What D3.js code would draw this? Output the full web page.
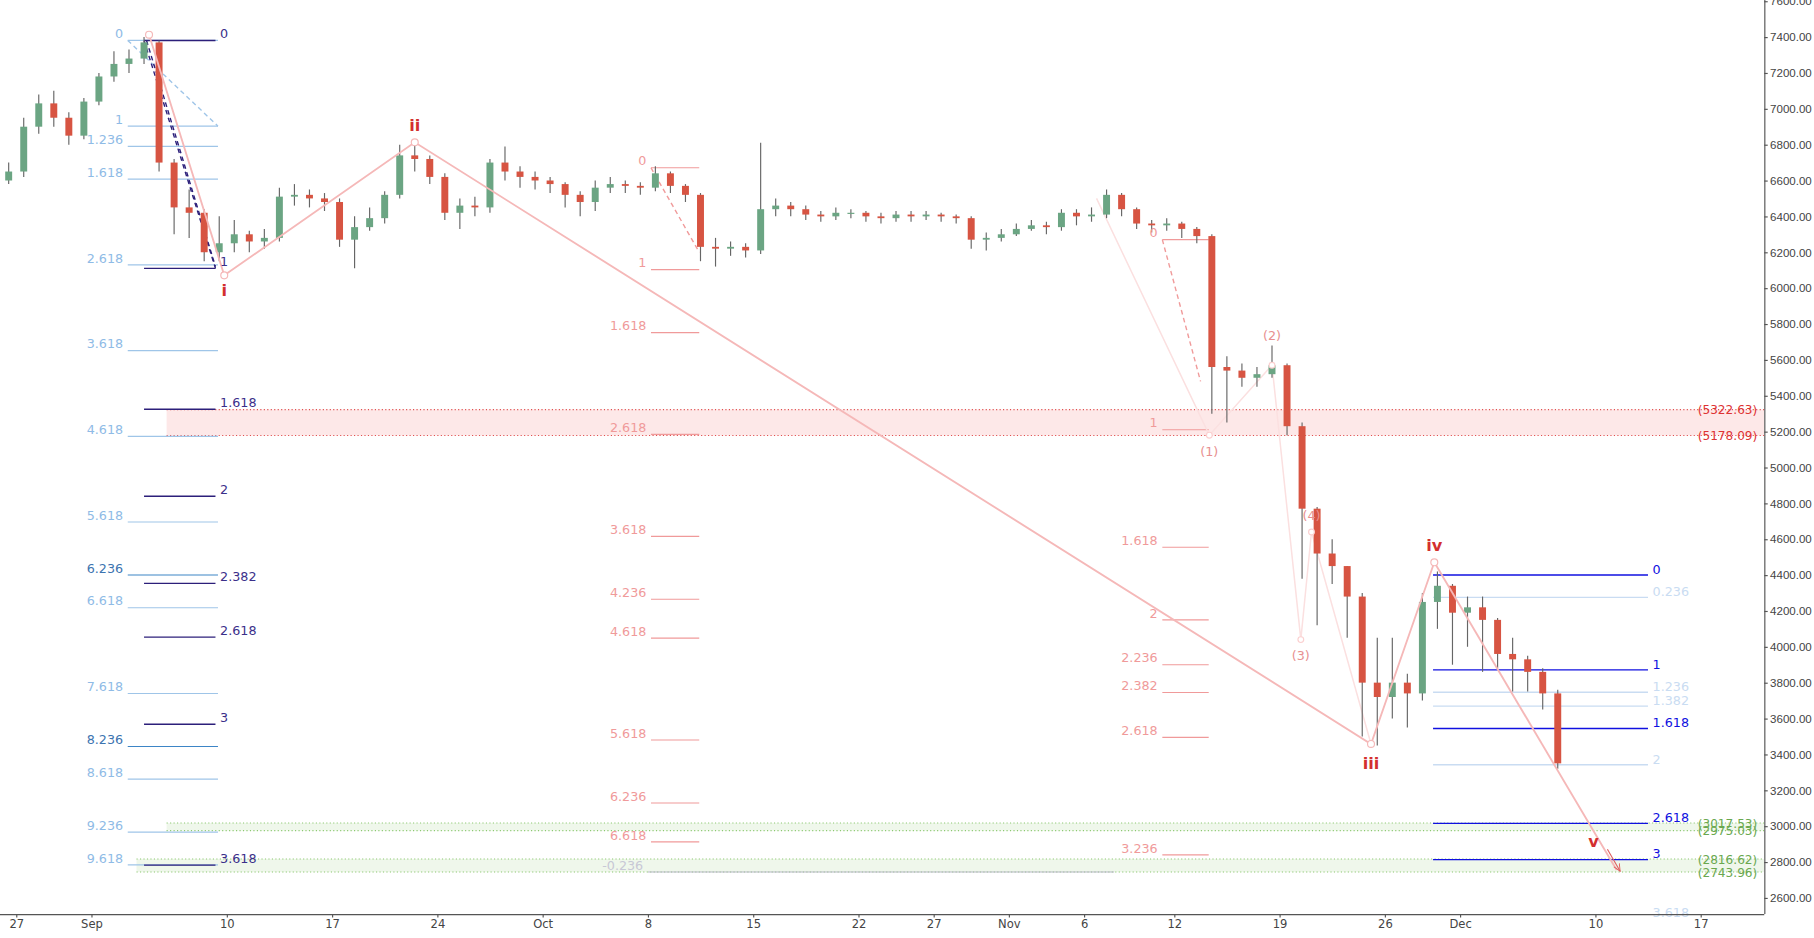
<!DOCTYPE html>
<html><head><meta charset="utf-8">
<script src="https://cdn.jsdelivr.net/npm/d3@7"></script>
<style>html,body{margin:0;padding:0;background:#fff;overflow:hidden}</style>
</head><body>
<svg id="c"></svg>
<script>
// ---------- DATA ----------
const startDate = "2018-08-26";
const closes = [6650,6900,7030,6950,6850,7040,
7180,7250,7280,7370,6700,6450,6420,6200,6250,6300,6260,6280,6510,6520,6500,6480,6270,6340,6390,6520,6740,6720,6620,6420,6460,6450,6700,6650,6620,6600,
6580,6520,6480,6560,6580,6570,6560,6640,6570,6520,6230,6220,6230,6210,6440,6460,6440,6410,6400,6420,6420,6400,6390,6410,6400,6410,6400,6390,6270,6280,6300,
6330,6350,6340,6420,6400,6410,6520,6440,6360,6350,6360,6330,6290,5560,5540,5500,5520,5570,5230,4770,4520,4450,4280,3800,3720,3800,3740,4250,4340,4190,
4220,4150,3960,3930,3860,3740,3350];
const highs = [6700,6950,7080,7100,6980,7060,
7200,7320,7330,7400,7380,6720,6550,6440,6400,6380,6320,6330,6560,6580,6550,6530,6500,6400,6450,6540,6800,6820,6740,6640,6500,6510,6720,6790,6680,6650,
6620,6590,6540,6600,6620,6600,6590,6680,6650,6580,6530,6280,6260,6250,6810,6500,6480,6460,6430,6450,6440,6430,6420,6430,6430,6430,6420,6410,6400,6310,6330,
6360,6380,6370,6440,6440,6450,6550,6530,6450,6380,6390,6370,6340,6300,5620,5580,5560,5680,5580,5250,4780,4600,4450,4300,4050,4050,3850,4300,4420,4350,
4280,4280,4160,4050,3950,3880,3760];
const lows = [6580,6620,6860,6900,6800,6830,
7020,7150,7200,7250,6650,6300,6280,6150,6150,6200,6200,6220,6260,6460,6450,6430,6230,6110,6320,6360,6500,6650,6580,6380,6330,6400,6420,6600,6560,6550,
6530,6450,6400,6430,6530,6530,6520,6540,6530,6480,6150,6120,6180,6170,6190,6400,6400,6380,6370,6380,6390,6370,6360,6370,6370,6380,6370,6360,6220,6210,6260,
6290,6320,6300,6320,6350,6370,6390,6400,6330,6310,6320,6280,6250,5300,5250,5450,5450,5500,5180,4380,4120,4350,4050,3500,3450,3600,3550,3700,4100,3900,
4000,3860,3880,3750,3750,3650,3320];
const firstOpen = 6600;

const yTicks = [2600,2800,3000,3200,3400,3600,3800,4000,4200,4400,4600,4800,5000,5200,5400,5600,5800,6000,6200,6400,6600,6800,7000,7200,7400,7600];
const xTickDates = ["2018-08-27","2018-09-01","2018-09-10","2018-09-17","2018-09-24","2018-10-01","2018-10-08","2018-10-15","2018-10-22","2018-10-27","2018-11-01","2018-11-06","2018-11-12","2018-11-19","2018-11-26","2018-12-01","2018-12-10","2018-12-17"];
const xTickLabels = ["27","Sep","10","17","24","Oct","8","15","22","27","Nov","6","12","19","26","Dec","10","17"];

const fibA_ratios = [0,1,1.236,1.618,2.618,3.618,4.618,5.618,6.236,6.618,7.618,8.236,8.618,9.236,9.618];
const fibA_base = [7381,6903];  const fibA_span = ["2018-09-03T10:00","2018-09-09T10:00"];
const fibB_ratios = [0,1,1.618,2,2.382,2.618,3,3.618];
const fibB_base = [7381,6110];  const fibB_span = ["2018-09-04T12:00","2018-09-09T06:00"];
const fibC_ratios = [0,1,1.618,2.618,3.618,4.236,4.618,5.618,6.236,6.618];
const fibC_base = [6671,6103];  const fibC_span = ["2018-10-08T05:00","2018-10-11T10:00"];
const fibD_ratios = [0,1,1.618,2,2.236,2.382,2.618,3.236];
const fibD_base = [6270,5210];  const fibD_span = ["2018-11-11T05:00","2018-11-14T07:00"];
const fibE_ratios = [0,0.236,1,1.236,1.382,1.618,2,2.618,3,3.618];
const fibE_strong = [0,1,1.618,2.618,3];
const fibE_base = [4400,3871];  const fibE_span = ["2018-11-29T05:00","2018-12-13T12:00"];

const waveDates = ["2018-09-04T20:00","2018-09-09T20:00","2018-09-22T12:00","2018-11-25T02:00","2018-11-29T07:00","2018-12-11T10:00"];
const wavePrices = [7413,6071,6813,3458,4471,2755];
const waveLabels = ["","i","ii","iii","iv","v"];
const subDates = ["2018-11-06T20:00","2018-11-14T08:00","2018-11-18T12:00","2018-11-20T10:00","2018-11-21T03:00","2018-11-25T02:00"];
const subPrices = [6500,5180,5570,4040,4640,3458];
const subLabels = ["","(1)","(2)","(3)","(4)",""];

const zones = [
  {top:5322.63, bot:5178.09, from:"2018-09-06", kind:"red"},
  {top:3017.53, bot:2975.03, from:"2018-09-06", kind:"green"},
  {top:2816.62, bot:2743.96, from:"2018-09-04", kind:"green"}
];

// ---------- DRAW ----------
const W=1568, H=810.7;
const svg=d3.select("#c").attr("width",1814).attr("height",938)
  .attr("viewBox",`0 0 ${W} ${H}`).attr("preserveAspectRatio","none")
  .style("font-family","'DejaVu Sans',Verdana,sans-serif");
const plotR=1525, plotB=790;
const P=d3.timeParse("%Y-%m-%d"), PT=d3.timeParse("%Y-%m-%dT%H:%M");
const pd=s=>s.length>10?PT(s):P(s);
const x=d3.scaleTime().domain([P("2018-08-27"),P("2018-12-17")]).range([14,1470]);
const y=d3.scaleLinear().domain([2600,7400]).range([776,32]);
const day=864e5;

const g=svg.append("g");
g.append("defs").append("clipPath").attr("id","clip").append("rect").attr("x",0).attr("y",0).attr("width",plotR).attr("height",plotB);
const plot=g.append("g").attr("clip-path","url(#clip)");

zones.forEach(z=>{
  const red=z.kind==="red";
  const fill=red?"rgba(240,80,80,0.13)":"rgba(120,190,90,0.12)";
  const st=red?"#e05050":"#8cc870";
  plot.append("rect").attr("x",x(P(z.from))).attr("y",y(z.top)).attr("width",plotR-x(P(z.from))).attr("height",y(z.bot)-y(z.top)).attr("fill",fill);
  [z.top,z.bot].forEach(v=>{
    plot.append("line").attr("x1",x(P(z.from))).attr("x2",plotR).attr("y1",y(v)).attr("y2",y(v))
      .attr("stroke",st).attr("stroke-width",1).attr("stroke-dasharray","1,2");
    g.append("text").attr("x",1519).attr("y",y(v)+4).attr("text-anchor","end").attr("font-size",10.5)
      .attr("fill",red?"#d33":"#6aa84f").text(`(${v.toFixed(2)})`);
  });
});

function fib(ratios,base,span,opt){
  const x0=x(pd(span[0])), x1=x(pd(span[1]));
  ratios.forEach(r=>{
    const v=base[0]-r*(base[0]-base[1]);
    const col=opt.color(r);
    plot.append("line").attr("x1",x0).attr("x2",x1).attr("y1",y(v)).attr("y2",y(v)).attr("stroke",col).attr("stroke-width",opt.w||1);
    const lx=opt.side==="left"?x0-4:x1+4;
    g.append("text").attr("x",lx).attr("y",y(v)+(opt.dy||-3)).attr("text-anchor",opt.side==="left"?"end":"start")
      .attr("font-size",11).attr("fill",opt.tcolor?opt.tcolor(r):col).text(r);
  });
}
const lb="#9fc5e8";
fib(fibA_ratios,fibA_base,fibA_span,{side:"left",dy:-2,color:r=>(r===6.236||r===8.236)?"#3d85c6":lb,
  tcolor:r=>(r===6.236||r===8.236)?"#3d74b0":"#8fbbe6"});
fib(fibB_ratios,fibB_base,fibB_span,{side:"right",dy:-2,color:()=>"#2c1f7a",w:1.2,tcolor:()=>"#3b2f8a"});
fib(fibC_ratios,fibC_base,fibC_span,{side:"left",dy:-2,color:()=>"#f09a9a"});
fib(fibD_ratios,fibD_base,fibD_span,{side:"left",dy:-2,color:()=>"#f09a9a"});
fib(fibE_ratios,fibE_base,fibE_span,{side:"right",dy:-1,color:r=>fibE_strong.includes(r)?"#1010e0":"#c9dcf2",w:1.2});
plot.append("line").attr("x1",x(P("2018-10-08"))).attr("x2",x(P("2018-11-08"))).attr("y1",y(2743.96)).attr("y2",y(2743.96)).attr("stroke","#b8b8c8");
g.append("text").attr("x",x(P("2018-10-08"))-4).attr("y",y(2743.96)-2).attr("text-anchor","end").attr("font-size",11).attr("fill","#c8c8d6").text("-0.236");

const dashLegs=[
  [fibA_span[0],fibA_base[0],fibA_span[1],fibA_base[1],"#9fc5e8"],
  [fibB_span[0],fibB_base[0],fibB_span[1],fibB_base[1],"#2c1f7a"],
  ["2018-09-04T16:00",7381,"2018-09-09T06:00",6120,"#2c1f7a"],
  [fibC_span[0],fibC_base[0],fibC_span[1],6200,"#f09a9a"],
  [fibD_span[0],fibD_base[0],"2018-11-13T18:00",5480,"#f09a9a"]
];
dashLegs.forEach(d=>plot.append("line").attr("x1",x(pd(d[0]))).attr("y1",y(d[1])).attr("x2",x(pd(d[2]))).attr("y2",y(d[3]))
  .attr("stroke",d[4]).attr("stroke-width",1.2).attr("stroke-dasharray","4,3"));

const subPts=subDates.map((d,i)=>[x(pd(d)),y(subPrices[i])]);
plot.append("path").attr("d",d3.line()(subPts)).attr("fill","none").attr("stroke","#fbe0e0").attr("stroke-width",1.3);

const t0=P(startDate);
const data=closes.map((c,i)=>({t:new Date(+t0+i*day+day/2),o:i?closes[i-1]:firstOpen,c,h:highs[i],l:lows[i]}));
const cg=plot.append("g");
data.forEach(d=>{
  const cx=x(d.t), up=d.c>=d.o;
  cg.append("line").attr("x1",cx).attr("x2",cx).attr("y1",y(d.h)).attr("y2",y(d.l)).attr("stroke","#666").attr("stroke-width",1);
  cg.append("rect").attr("x",cx-3).attr("width",6).attr("y",y(Math.max(d.o,d.c))).attr("height",Math.max(1,Math.abs(y(d.o)-y(d.c))))
    .attr("fill",up?"#6ba583":"#d75442");
});

subPts.slice(1,5).forEach(p=>plot.append("circle").attr("cx",p[0]).attr("cy",p[1]).attr("r",2.5).attr("fill","#fff").attr("stroke","#fbd0d0"));

const wPts=waveDates.map((d,i)=>[x(pd(d)),y(wavePrices[i])]);
svg.append("defs").append("marker").attr("id","arr").attr("viewBox","0 0 10 10").attr("refX",9).attr("refY",5)
  .attr("markerWidth",7).attr("markerHeight",7).attr("orient","auto")
  .append("path").attr("d","M0,1 L9,5 L0,9").attr("fill","none").attr("stroke","#e06060").attr("stroke-width",1.2);
plot.append("path").attr("d",d3.line()(wPts.slice(0,5))).attr("fill","none").attr("stroke","#f5b8b8").attr("stroke-width",1.6);
plot.append("line").attr("x1",wPts[4][0]).attr("y1",wPts[4][1]).attr("x2",wPts[5][0]).attr("y2",wPts[5][1])
  .attr("stroke","#f5b8b8").attr("stroke-width",1.6);
plot.append("line").attr("x1",wPts[5][0]-8).attr("y1",wPts[5][1]-18).attr("x2",wPts[5][0]+3).attr("y2",wPts[5][1]+1)
  .attr("stroke","#e06060").attr("stroke-width",1).attr("marker-end","url(#arr)");
wPts.slice(0,5).forEach(p=>plot.append("circle").attr("cx",p[0]).attr("cy",p[1]).attr("r",3).attr("fill","#fff").attr("stroke","#f5b8b8"));
const lblOff=[0,14,-10,18,-10,-20];
waveLabels.forEach((l,i)=>{ if(!l) return;
  g.append("text").attr("x",wPts[i][0]-(i===5?20:0)).attr("y",wPts[i][1]+lblOff[i]+(lblOff[i]>0?4:0)).attr("text-anchor","middle")
   .attr("font-size",14).attr("font-weight","bold").attr("fill","#d32f2f").text(l);});
const subOff=[0,18,-22,18,-10];
subLabels.forEach((l,i)=>{ if(!l) return;
  g.append("text").attr("x",subPts[i][0]).attr("y",subPts[i][1]+subOff[i]).attr("text-anchor","middle")
   .attr("font-size",11).attr("fill","#e89090").text(l);});

const ya=g.append("g").attr("transform",`translate(${plotR},0)`)
  .call(d3.axisRight(y).tickValues(yTicks).tickSize(3).tickPadding(2).tickFormat(d=>d.toFixed(2)));
ya.select(".domain").attr("stroke","#555").attr("d",`M0.5,0V${plotB}`);
ya.selectAll("text").attr("font-size",10).attr("fill","#444").attr("font-family","'Liberation Sans',Arial,sans-serif");
ya.selectAll("line").attr("stroke","#555");
const xa=g.append("g").attr("transform",`translate(0,${plotB})`)
  .call(d3.axisBottom(x).tickValues(xTickDates.map(P)).tickSize(3).tickPadding(2).tickFormat((d,i)=>xTickLabels[i]));
xa.select(".domain").attr("stroke","#555").attr("d",`M0,0.5H${plotR}`);
xa.selectAll("text").attr("font-size",10).attr("fill","#444").attr("font-family","'DejaVu Sans',sans-serif");
xa.selectAll("line").attr("stroke","#555");
</script>
</body></html>
